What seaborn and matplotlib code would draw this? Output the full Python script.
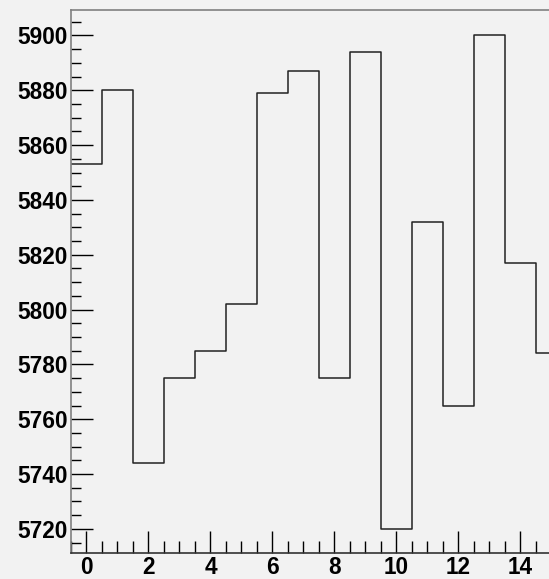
import matplotlib
matplotlib.use("Agg")
import matplotlib.pyplot as plt
import seaborn as sns
import pandas as pd
from matplotlib.ticker import MultipleLocator

# bin contents, one bin per integer
bins = list(range(16))
counts = [5853, 5880, 5744, 5775, 5785, 5802, 5879, 5887,
          5775, 5894, 5720, 5832, 5765, 5900, 5817, 5784]
yticks = [5720, 5740, 5760, 5780, 5800, 5820, 5840, 5860, 5880, 5900]
xticks = [0, 2, 4, 6, 8, 10, 12, 14]

df = pd.DataFrame({"bin": bins, "count": counts})

sns.set_style("white")
plt.rcParams["font.family"] = ["Liberation Sans", "DejaVu Sans"]

bg = "#f2f2f2"
fig = plt.figure(figsize=(5.49, 5.79), dpi=100, facecolor=bg)
ax = fig.add_axes([71 / 549, 1 - 553 / 579, 1 - 71 / 549 + 0.01, (553 - 10) / 579])
ax.set_facecolor(bg)

sns.histplot(
    data=df,
    x="bin",
    weights="count",
    discrete=True,
    element="step",
    fill=False,
    color="#222222",
    linewidth=1.1,
    ax=ax
)

ax.set_xlim(-0.5, 15.1)
ax.set_ylim(5711.2, 5909.3)
ax.set_xticks(xticks)
ax.set_yticks(yticks)
ax.xaxis.set_minor_locator(MultipleLocator(0.5))
ax.yaxis.set_minor_locator(MultipleLocator(5))
ax.set_xlabel("")
ax.set_ylabel("")

ax.tick_params(axis="both", which="both", bottom=True, left=True,
               top=False, right=False, direction="in", width=1, color="black")
ax.tick_params(axis="both", which="major", length=16, labelsize=16.3,
               labelcolor="black")
ax.tick_params(axis="x", which="minor", length=8.3)
ax.tick_params(axis="y", which="minor", length=7.3)
ax.tick_params(axis="y", which="major", pad=2.5)
ax.tick_params(axis="x", which="major", pad=2.5)
for lbl in ax.get_xticklabels() + ax.get_yticklabels():
    lbl.set_fontweight("bold")

for side in ["left", "top"]:
    ax.spines[side].set_color("#808080")
    ax.spines[side].set_linewidth(1.2)
ax.spines["bottom"].set_color("#333333")
ax.spines["bottom"].set_linewidth(1.2)
ax.spines["right"].set_visible(False)

plt.savefig("out.png", dpi=100, facecolor=bg)
